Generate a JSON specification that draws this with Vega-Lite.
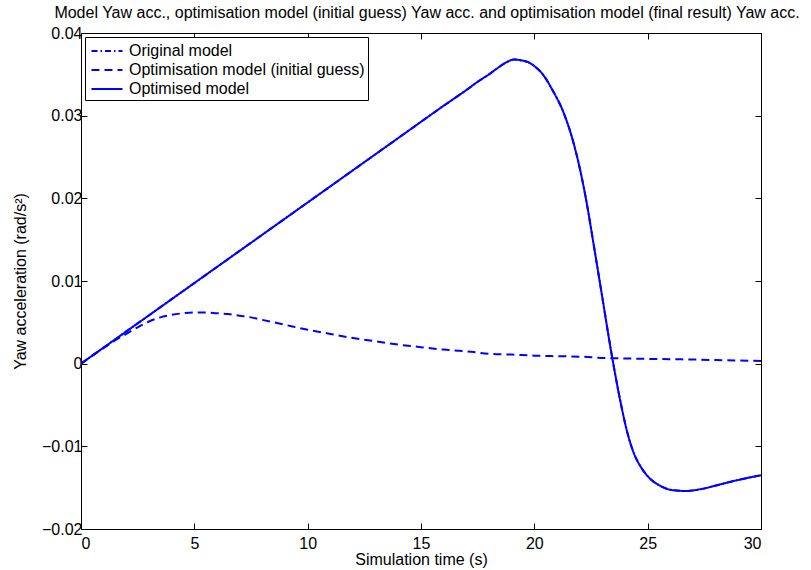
{
  "$schema": "https://vega.github.io/schema/vega-lite/v6.json",
  "width": 680,
  "height": 496,
  "autosize": "none",
  "padding": {"left": 81, "top": 33, "right": 50, "bottom": 41},
  "background": "white",
  "config": {
    "font": "Liberation Sans",
    "view": {"stroke": "black", "strokeWidth": 1},
    "axis": {
      "domainColor": "black",
      "tickColor": "black",
      "labelColor": "black",
      "titleColor": "black",
      "labelFontSize": 16,
      "titleFontSize": 16,
      "titleFontWeight": "normal",
      "grid": false,
      "tickSize": -6,
      "domainWidth": 1
    }
  },
  "title": {
    "text": "Model Yaw acc., optimisation model (initial guess) Yaw acc. and optimisation model (final result) Yaw acc.",
    "fontSize": 16,
    "fontWeight": "normal",
    "color": "black",
    "offset": 4,
    "dx": 6
  },
  "datasets": {
    "runs": [
      {"time": 0, "acc": 0, "model": "Original model"},
      {"time": 2, "acc": 0.0039, "model": "Original model"},
      {"time": 4, "acc": 0.0078, "model": "Original model"},
      {"time": 6, "acc": 0.0117, "model": "Original model"},
      {"time": 8, "acc": 0.0156, "model": "Original model"},
      {"time": 10, "acc": 0.0195, "model": "Original model"},
      {"time": 12, "acc": 0.0234, "model": "Original model"},
      {"time": 14, "acc": 0.0273, "model": "Original model"},
      {"time": 16, "acc": 0.0312, "model": "Original model"},
      {"time": 17, "acc": 0.0331, "model": "Original model"},
      {"time": 17.5, "acc": 0.0341, "model": "Original model"},
      {"time": 18, "acc": 0.0350, "model": "Original model"},
      {"time": 18.4, "acc": 0.0358, "model": "Original model"},
      {"time": 18.8, "acc": 0.0365, "model": "Original model"},
      {"time": 19.1, "acc": 0.0368, "model": "Original model"},
      {"time": 19.4, "acc": 0.0367, "model": "Original model"},
      {"time": 19.7, "acc": 0.0365, "model": "Original model"},
      {"time": 20, "acc": 0.0360, "model": "Original model"},
      {"time": 20.4, "acc": 0.0349, "model": "Original model"},
      {"time": 20.8, "acc": 0.0331, "model": "Original model"},
      {"time": 21.3, "acc": 0.0303, "model": "Original model"},
      {"time": 21.7, "acc": 0.0270, "model": "Original model"},
      {"time": 22, "acc": 0.0237, "model": "Original model"},
      {"time": 22.3, "acc": 0.0196, "model": "Original model"},
      {"time": 22.6, "acc": 0.0147, "model": "Original model"},
      {"time": 23, "acc": 0.0080, "model": "Original model"},
      {"time": 23.4, "acc": 0.0013, "model": "Original model"},
      {"time": 23.8, "acc": -0.0046, "model": "Original model"},
      {"time": 24.1, "acc": -0.0083, "model": "Original model"},
      {"time": 24.4, "acc": -0.0109, "model": "Original model"},
      {"time": 24.7, "acc": -0.0125, "model": "Original model"},
      {"time": 25.1, "acc": -0.0139, "model": "Original model"},
      {"time": 25.5, "acc": -0.0147, "model": "Original model"},
      {"time": 26.1, "acc": -0.0153, "model": "Original model"},
      {"time": 26.7, "acc": -0.0154, "model": "Original model"},
      {"time": 27.3, "acc": -0.0152, "model": "Original model"},
      {"time": 28.2, "acc": -0.0146, "model": "Original model"},
      {"time": 29.1, "acc": -0.0140, "model": "Original model"},
      {"time": 30, "acc": -0.0135, "model": "Original model"},

      {"time": 0, "acc": 0, "model": "Optimisation model (initial guess)"},
      {"time": 0.5, "acc": 0.00098, "model": "Optimisation model (initial guess)"},
      {"time": 1, "acc": 0.0019, "model": "Optimisation model (initial guess)"},
      {"time": 1.5, "acc": 0.0028, "model": "Optimisation model (initial guess)"},
      {"time": 2, "acc": 0.0036, "model": "Optimisation model (initial guess)"},
      {"time": 2.5, "acc": 0.0044, "model": "Optimisation model (initial guess)"},
      {"time": 3, "acc": 0.0051, "model": "Optimisation model (initial guess)"},
      {"time": 3.5, "acc": 0.0056, "model": "Optimisation model (initial guess)"},
      {"time": 4, "acc": 0.0059, "model": "Optimisation model (initial guess)"},
      {"time": 4.5, "acc": 0.0061, "model": "Optimisation model (initial guess)"},
      {"time": 5, "acc": 0.0062, "model": "Optimisation model (initial guess)"},
      {"time": 5.5, "acc": 0.0062, "model": "Optimisation model (initial guess)"},
      {"time": 6, "acc": 0.0061, "model": "Optimisation model (initial guess)"},
      {"time": 6.5, "acc": 0.0060, "model": "Optimisation model (initial guess)"},
      {"time": 7, "acc": 0.0058, "model": "Optimisation model (initial guess)"},
      {"time": 7.5, "acc": 0.0056, "model": "Optimisation model (initial guess)"},
      {"time": 8, "acc": 0.0053, "model": "Optimisation model (initial guess)"},
      {"time": 9, "acc": 0.0047, "model": "Optimisation model (initial guess)"},
      {"time": 10, "acc": 0.0041, "model": "Optimisation model (initial guess)"},
      {"time": 11, "acc": 0.0036, "model": "Optimisation model (initial guess)"},
      {"time": 12, "acc": 0.0031, "model": "Optimisation model (initial guess)"},
      {"time": 13, "acc": 0.0027, "model": "Optimisation model (initial guess)"},
      {"time": 14, "acc": 0.0023, "model": "Optimisation model (initial guess)"},
      {"time": 15, "acc": 0.0020, "model": "Optimisation model (initial guess)"},
      {"time": 16, "acc": 0.0017, "model": "Optimisation model (initial guess)"},
      {"time": 17, "acc": 0.0015, "model": "Optimisation model (initial guess)"},
      {"time": 18, "acc": 0.0012, "model": "Optimisation model (initial guess)"},
      {"time": 19, "acc": 0.0011, "model": "Optimisation model (initial guess)"},
      {"time": 20, "acc": 0.00097, "model": "Optimisation model (initial guess)"},
      {"time": 21, "acc": 0.0009, "model": "Optimisation model (initial guess)"},
      {"time": 22, "acc": 0.00085, "model": "Optimisation model (initial guess)"},
      {"time": 23, "acc": 0.0007, "model": "Optimisation model (initial guess)"},
      {"time": 24, "acc": 0.00063, "model": "Optimisation model (initial guess)"},
      {"time": 25, "acc": 0.00058, "model": "Optimisation model (initial guess)"},
      {"time": 26, "acc": 0.00054, "model": "Optimisation model (initial guess)"},
      {"time": 27, "acc": 0.0005, "model": "Optimisation model (initial guess)"},
      {"time": 28, "acc": 0.00044, "model": "Optimisation model (initial guess)"},
      {"time": 29, "acc": 0.00038, "model": "Optimisation model (initial guess)"},
      {"time": 30, "acc": 0.00032, "model": "Optimisation model (initial guess)"},

      {"time": 0, "acc": 0, "model": "Optimised model"},
      {"time": 2, "acc": 0.0039, "model": "Optimised model"},
      {"time": 4, "acc": 0.0078, "model": "Optimised model"},
      {"time": 6, "acc": 0.0117, "model": "Optimised model"},
      {"time": 8, "acc": 0.0156, "model": "Optimised model"},
      {"time": 10, "acc": 0.0195, "model": "Optimised model"},
      {"time": 12, "acc": 0.0234, "model": "Optimised model"},
      {"time": 14, "acc": 0.0273, "model": "Optimised model"},
      {"time": 16, "acc": 0.0312, "model": "Optimised model"},
      {"time": 17, "acc": 0.0331, "model": "Optimised model"},
      {"time": 17.5, "acc": 0.0341, "model": "Optimised model"},
      {"time": 18, "acc": 0.0350, "model": "Optimised model"},
      {"time": 18.4, "acc": 0.0358, "model": "Optimised model"},
      {"time": 18.8, "acc": 0.0365, "model": "Optimised model"},
      {"time": 19.1, "acc": 0.0368, "model": "Optimised model"},
      {"time": 19.4, "acc": 0.0367, "model": "Optimised model"},
      {"time": 19.7, "acc": 0.0365, "model": "Optimised model"},
      {"time": 20, "acc": 0.0360, "model": "Optimised model"},
      {"time": 20.4, "acc": 0.0349, "model": "Optimised model"},
      {"time": 20.8, "acc": 0.0331, "model": "Optimised model"},
      {"time": 21.3, "acc": 0.0303, "model": "Optimised model"},
      {"time": 21.7, "acc": 0.0270, "model": "Optimised model"},
      {"time": 22, "acc": 0.0237, "model": "Optimised model"},
      {"time": 22.3, "acc": 0.0196, "model": "Optimised model"},
      {"time": 22.6, "acc": 0.0147, "model": "Optimised model"},
      {"time": 23, "acc": 0.0080, "model": "Optimised model"},
      {"time": 23.4, "acc": 0.0013, "model": "Optimised model"},
      {"time": 23.8, "acc": -0.0046, "model": "Optimised model"},
      {"time": 24.1, "acc": -0.0083, "model": "Optimised model"},
      {"time": 24.4, "acc": -0.0109, "model": "Optimised model"},
      {"time": 24.7, "acc": -0.0125, "model": "Optimised model"},
      {"time": 25.1, "acc": -0.0139, "model": "Optimised model"},
      {"time": 25.5, "acc": -0.0147, "model": "Optimised model"},
      {"time": 26.1, "acc": -0.0153, "model": "Optimised model"},
      {"time": 26.7, "acc": -0.0154, "model": "Optimised model"},
      {"time": 27.3, "acc": -0.0152, "model": "Optimised model"},
      {"time": 28.2, "acc": -0.0146, "model": "Optimised model"},
      {"time": 29.1, "acc": -0.0140, "model": "Optimised model"},
      {"time": 30, "acc": -0.0135, "model": "Optimised model"}
    ]
  },
  "data": {"name": "runs"},
  "resolve": {"axis": {"x": "independent", "y": "independent"}},
  "layer": [
    {
      "mark": {"type": "line", "color": "#0000ff", "strokeWidth": 2, "interpolate": "monotone", "clip": true},
      "encoding": {
        "x": {
          "field": "time", "type": "quantitative",
          "scale": {"domain": [0, 30], "nice": false, "zero": false},
          "axis": {"values": [0, 5, 10, 15, 20, 25, 30], "title": "Simulation time (s)", "labelPadding": 12, "titlePadding": 0}
        },
        "y": {
          "field": "acc", "type": "quantitative",
          "scale": {"domain": [-0.02, 0.04], "nice": false, "zero": false},
          "axis": {
            "values": [-0.02, -0.01, 0, 0.01, 0.02, 0.03, 0.04],
            "labelExpr": "datum.value == 0 ? '0' : format(datum.value, '.2f')",
            "title": "Yaw acceleration (rad/s²)",
            "labelPadding": 5,
            "titlePadding": 13
          }
        },
        "strokeDash": {
          "field": "model", "type": "nominal",
          "scale": {
            "domain": ["Original model", "Optimisation model (initial guess)", "Optimised model"],
            "range": [[6, 3, 1.5, 3], [8, 5], [1, 0]]
          },
          "legend": {
            "title": null,
            "orient": "top-left",
            "offset": 4,
            "fillColor": "white",
            "strokeColor": "black",
            "padding": 3,
            "symbolOffset": 8,
            "symbolType": "M-1.55,0H1.55",
            "symbolStrokeColor": "#0000ff",
            "symbolStrokeWidth": 2,
            "symbolSize": 400,
            "labelFontSize": 16,
            "labelColor": "black",
            "labelOffset": 11,
            "labelLimit": 400,
            "rowPadding": 0
          }
        }
      }
    },
    {
      "mark": {"type": "line", "opacity": 0},
      "encoding": {
        "x": {
          "field": "time", "type": "quantitative",
          "scale": {"domain": [0, 30], "nice": false, "zero": false},
          "axis": {"orient": "top", "values": [0, 5, 10, 15, 20, 25, 30], "labels": false, "title": null}
        },
        "y": {
          "field": "acc", "type": "quantitative",
          "scale": {"domain": [-0.02, 0.04], "nice": false, "zero": false},
          "axis": {"orient": "right", "values": [-0.02, -0.01, 0, 0.01, 0.02, 0.03, 0.04], "labels": false, "title": null}
        },
        "detail": {"field": "model", "type": "nominal"}
      }
    }
  ]
}
